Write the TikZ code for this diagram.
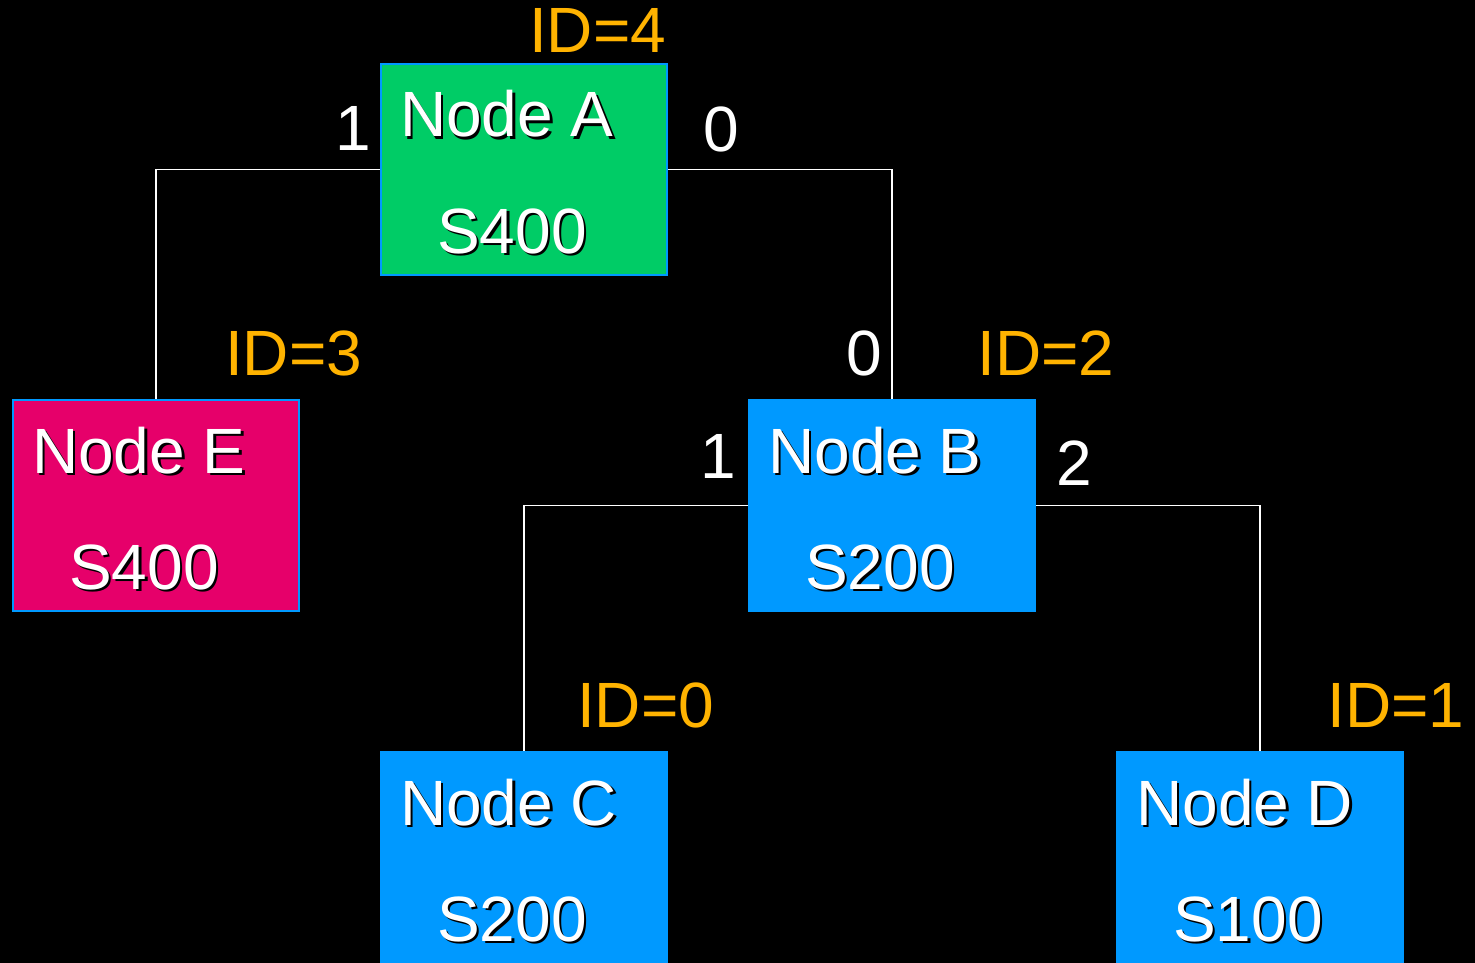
\documentclass[tikz,border=0pt]{standalone}
\usepackage{fontspec}
\setmainfont{Liberation Sans}
\usetikzlibrary{calc}

\definecolor{nodegreen}{HTML}{00CC66}
\definecolor{nodepink}{HTML}{E6006A}
\definecolor{nodeblue}{HTML}{0099FF}
\definecolor{idorange}{HTML}{FFB300}

%% white text with a small black drop shadow
\newcommand{\shtxt}[1]{\rlap{\kern2.5pt\raisebox{-2.5pt}{\color{black}#1}}#1}

\begin{document}
\begin{tikzpicture}[
    x=1pt, y=-1pt,
    font=\fontsize{64}{70}\selectfont,
    %% ── Box styles ──────────────────────────────────────────────────────
    treebox/.style={
        draw=nodeblue, line width=2pt,
        rectangle, minimum width=286pt, minimum height=211pt,
        inner sep=0pt,
    },
    boxtxt/.style={text=white, anchor=base west, inner sep=0pt},
    %% ── Label styles ────────────────────────────────────────────────────
    idlbl/.style={text=idorange, anchor=base west, inner sep=0pt},
    portlbl/.style={text=white, anchor=base west, inner sep=0pt},
    %% ── Link style ──────────────────────────────────────────────────────
    link/.style={draw=white, line width=1.5pt},
]

\fill[black] (0,0) rectangle (1475,963);
\clip (0,0) rectangle (1475,963);

%%─────────────────────────────────────────────────────────────────────────
%% Boxes
%%─────────────────────────────────────────────────────────────────────────
\node[treebox, fill=nodegreen] (A) at (524, 169.5) {};
\node[treebox, fill=nodepink]  (E) at (156, 505.5) {};
\node[treebox, fill=nodeblue]  (B) at (892, 505.5) {};
\node[treebox, fill=nodeblue]  (C) at (524, 857.5) {};
\node[treebox, fill=nodeblue]  (D) at (1260, 857.5) {};

%% box texts
\node[boxtxt] (A-name) at ($(A.north west)+(20,74)$)  {\shtxt{Node A}};
\node[boxtxt] (A-sw)   at ($(A.north west)+(57,190)$) {\shtxt{S400}};
\node[boxtxt] (E-name) at ($(E.north west)+(20,74)$)  {\shtxt{Node E}};
\node[boxtxt] (E-sw)   at ($(E.north west)+(57,190)$) {\shtxt{S400}};
\node[boxtxt] (B-name) at ($(B.north west)+(20,74)$)  {\shtxt{Node B}};
\node[boxtxt] (B-sw)   at ($(B.north west)+(57,190)$) {\shtxt{S200}};
\node[boxtxt] (C-name) at ($(C.north west)+(20,74)$)  {\shtxt{Node C}};
\node[boxtxt] (C-sw)   at ($(C.north west)+(57,190)$) {\shtxt{S200}};
\node[boxtxt] (D-name) at ($(D.north west)+(20,74)$)  {\shtxt{Node D}};
\node[boxtxt] (D-sw)   at ($(D.north west)+(57,190)$) {\shtxt{S100}};

%%─────────────────────────────────────────────────────────────────────────
%% IDs
%%─────────────────────────────────────────────────────────────────────────
\node[idlbl] (A-id) at (529, 53)  {ID=4};
\node[idlbl] (E-id) at (225, 375) {ID=3};
\node[idlbl] (B-id) at (977, 375) {ID=2};
\node[idlbl] (C-id) at (577, 727) {ID=0};
\node[idlbl] (D-id) at (1327, 727) {ID=1};

%%─────────────────────────────────────────────────────────────────────────
%% Links
%%─────────────────────────────────────────────────────────────────────────
\draw[link] (A.west) -| (E.north);
\draw[link] (A.east) -| (B.north);
\draw[link] (B.west) -| (C.north);
\draw[link] (B.east) -| (D.north);

%% port numbers
\node[portlbl] (A-p1) at (335, 150)  {1};
\node[portlbl] (A-p0) at (703, 152)  {0};
\node[portlbl] (B-p0) at (846, 375)  {0};
\node[portlbl] (B-p1) at (700, 478)  {1};
\node[portlbl] (B-p2) at (1056, 485) {2};

\end{tikzpicture}
\end{document}
